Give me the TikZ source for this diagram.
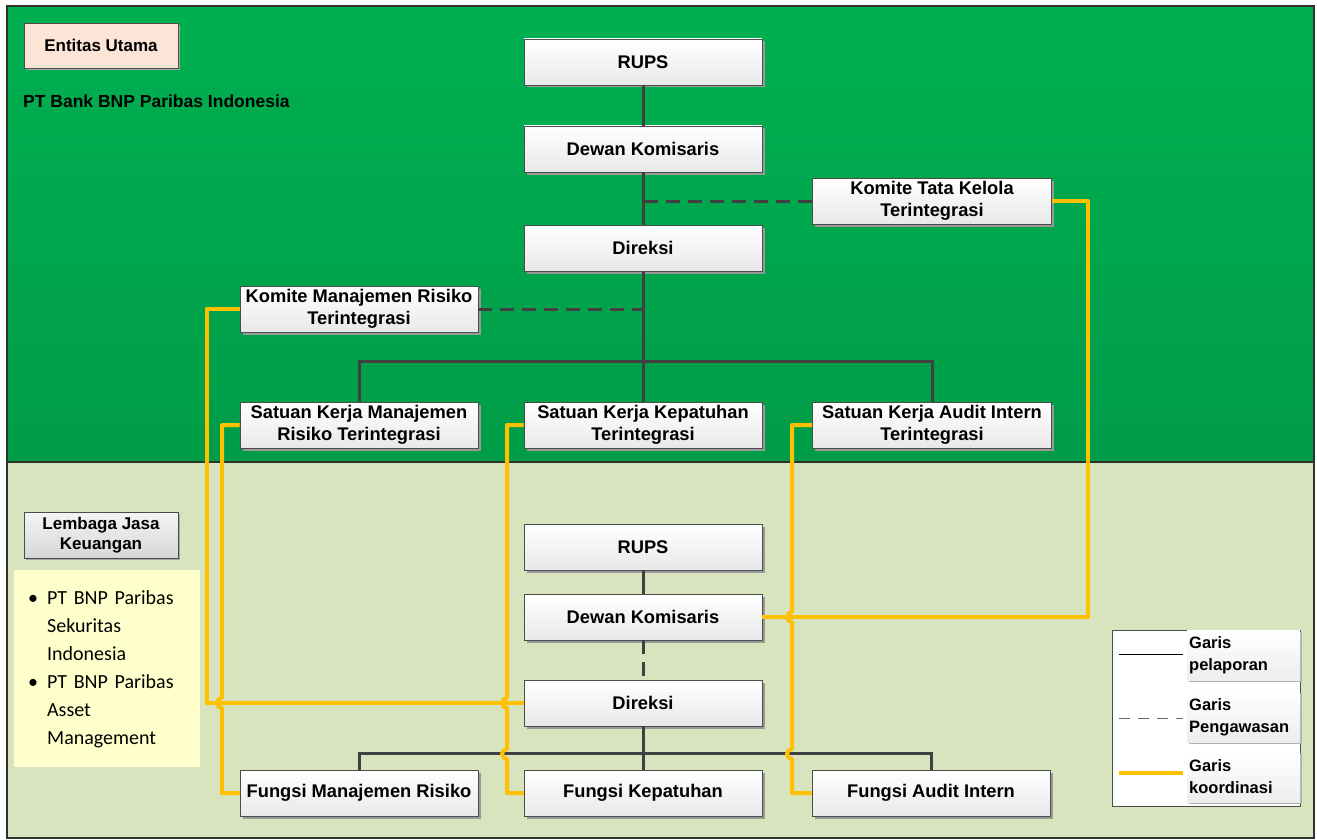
\documentclass[tikz,border=0pt]{standalone}
\usepackage{fontspec}
\setmainfont{Liberation Sans}
\newfontfamily\listfont{Carlito}
\usetikzlibrary{positioning,shadows,backgrounds}
\definecolor{green1}{RGB}{0,176,80}
\definecolor{green2}{RGB}{0,156,72}
\definecolor{olive1}{RGB}{216,228,190}
\definecolor{frame1}{RGB}{45,50,45}
\definecolor{line1}{RGB}{64,64,64}
\definecolor{yellow2}{RGB}{255,192,0}
\definecolor{peach}{RGB}{252,228,214}
\definecolor{lightyellow}{RGB}{255,255,204}
\tikzset{
  orgbox/.style={draw=black!70, line width=0.8pt, top color=white, bottom color=black!9,
    minimum width=238pt, minimum height=46pt, align=center, inner sep=2pt,
    font=\fontsize{18.3}{21.5}\selectfont\bfseries,
    drop shadow={shadow xshift=2.5pt, shadow yshift=-2.5pt, fill=black!40, opacity=1}},
  sidebox/.style={draw=black!70, line width=0.8pt, minimum width=154pt, minimum height=45pt,
    align=center, inner sep=2pt, font=\fontsize{17}{20}\selectfont\bfseries,
    drop shadow={shadow xshift=2pt, shadow yshift=-2pt, fill=black!35, opacity=1}},
  legendlabel/.style={top color=white, bottom color=black!7, text width=109pt, inner xsep=2pt,
    minimum height=50pt, align=left, font=\fontsize{16.5}{22}\selectfont\bfseries,
    drop shadow={shadow xshift=1.5pt, shadow yshift=-1.5pt, fill=black!30, opacity=1}},
  report/.style={line1, line width=3pt},
  superv/.style={line1, line width=3pt, dash pattern=on 14pt off 8pt},
  koord/.style={yellow2, line width=4pt, line join=round}
}
\begin{document}
\begin{tikzpicture}[x=1pt,y=-1pt]
\useasboundingbox (0,0) rectangle (1317,840);
% areas
\path[draw=frame1, line width=1.5pt, top color=green1, bottom color=green2] (7,6) rectangle (1314,462);
\path[draw=frame1, line width=1.5pt, fill=olive1] (7,462) rectangle (1314,838);

% labels left
\node[sidebox, fill=peach] (entitas) at (101,45.5) {Entitas Utama};
\node[anchor=west, inner sep=0pt, font=\fontsize{17.5}{20}\selectfont\bfseries] (bank) at (23,101) {PT Bank BNP Paribas Indonesia};
\node[sidebox, top color=black!4, bottom color=black!16, minimum height=46pt] (lembaga) at (101,535) {Lembaga Jasa\\Keuangan};
\node[fill=lightyellow, anchor=north west, text width=158pt, inner xsep=14pt, minimum height=197pt,
      align=left, font=\listfont\fontsize{20}{28}\selectfont] (anak) at (14,570)
  {\begin{tabular}{@{}l@{\hspace{9pt}}l@{}}
   \textbullet & PT BNP Paribas\\
               & Sekuritas\\
               & Indonesia\\
   \textbullet & PT BNP Paribas\\
               & Asset\\
               & Management
   \end{tabular}};

% entitas utama
\node[orgbox] (rups1) at (643,62) {RUPS};
\node[orgbox] (dk1) at (643,149) {Dewan Komisaris};
\node[orgbox] (dir1) at (643,248) {Direksi};
\node[orgbox, minimum width=239pt] (ktk) at (932,201) {Komite Tata Kelola\\Terintegrasi};
\node[orgbox] (kmr) at (359,309) {Komite Manajemen Risiko\\Terintegrasi};
\node[orgbox] (skmr) at (359,425) {Satuan Kerja Manajemen\\Risiko Terintegrasi};
\node[orgbox] (skk) at (643,425) {Satuan Kerja Kepatuhan\\Terintegrasi};
\node[orgbox, minimum width=239pt] (skai) at (932,425) {Satuan Kerja Audit Intern\\Terintegrasi};

% lembaga jasa keuangan
\node[orgbox] (rups2) at (643,547) {RUPS};
\node[orgbox] (dk2) at (643,617) {Dewan Komisaris};
\node[orgbox] (dir2) at (643,703) {Direksi};
\node[orgbox] (fmr) at (359,793) {Fungsi Manajemen Risiko};
\node[orgbox] (fk) at (643,793) {Fungsi Kepatuhan};
\node[orgbox] (fai) at (931,793) {Fungsi Audit Intern};

% legend
\node[draw=black!70, line width=0.8pt, fill=white, minimum width=188pt, minimum height=176pt] (legenda) at (1206,718) {};
\node[legendlabel, anchor=west] (lg1) at (1187,655) {Garis\\pelaporan};
\node[legendlabel, anchor=west] (lg2) at (1187,717) {Garis\\Pengawasan};
\node[legendlabel, anchor=west] (lg3) at (1187,777) {Garis\\koordinasi};
\coordinate (s1a) at (1119,654);
\coordinate (s1b) at (1183,654);
\coordinate (s2a) at (1119,718);
\coordinate (s2b) at (1183,718);
\coordinate (s3a) at (1119,773);
\coordinate (s3b) at (1183,773);
\draw[black, line width=0.9pt] (s1a) -- (s1b);
\draw[black!60, line width=1pt, dash pattern=on 11pt off 8pt] (s2a) -- (s2b);
\draw[yellow2, line width=3.5pt] (s3a) -- (s3b);

% garis pelaporan / pengawasan (atas)
\draw[report] (rups1) -- (dk1);
\draw[report] (dk1) -- (dir1);
\draw[report] (dir1.south) -- (skk.north);
\draw[report] (skmr.north) -- ++(0,-40) -| (skai.north);
\draw[superv] (ktk.west) -- (dk1.south |- ktk.west);
\draw[superv] (kmr.east) -- (dir1.south |- kmr.east);

% garis pelaporan / pengawasan (bawah)
\draw[report] (rups2) -- (dk2);
\draw[superv] (dk2) -- (dir2);
\draw[report] (dir2.south) -- (fk.north);
\draw[report] (fmr.north) -- ++(0,-16) -| (fai.north);

% garis koordinasi
\draw[koord] (ktk.east) -- ++(36,0) |- (dk2.east);
\draw[koord] (kmr.west) -- ++(-33,0) |- (dir2.west);
\draw[koord] (skmr.west) -| (222,698) arc[start angle=90, end angle=270, radius=5pt] |- (fmr.west);
\draw[koord] (skk.west) -| (507,698) arc[start angle=90, end angle=270, radius=5pt]
  -- (507,749) arc[start angle=90, end angle=270, radius=5pt] |- (fk.west);
\draw[koord] (skai.west) -| (792,612) arc[start angle=90, end angle=270, radius=5pt]
  -- (792,749) arc[start angle=90, end angle=270, radius=5pt] |- (fai.west);
\end{tikzpicture}
\end{document}
